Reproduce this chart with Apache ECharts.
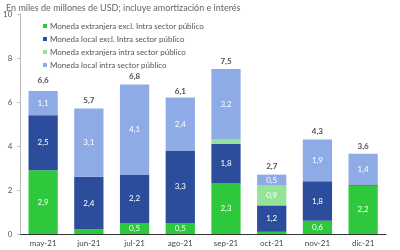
<!DOCTYPE html>
<html>
<head>
<meta charset="utf-8">
<script src="https://cdn.jsdelivr.net/npm/echarts@6/dist/echarts.min.js"></script>
<style>
html, body { margin: 0; padding: 0; background: #fff; }
#chart { width: 400px; height: 250px; }
</style>
</head>
<body>
<div id="chart"></div>
<script>
var months = ["may-21", "jun-21", "jul-21", "ago-21", "sep-21", "oct-21", "nov-21", "dic-21"];
var extranjeraExcl = [2.9, 0.2, 0.5, 0.5, 2.3, 0.1, 0.6, 2.2];
var localExcl = [2.5, 2.4, 2.2, 3.3, 1.8, 1.2, 1.8, 0.05];
var extranjeraIntra = [0, 0, 0, 0, 0.2, 0.9, 0, 0];
var localIntra = [1.1, 3.1, 4.1, 2.4, 3.2, 0.5, 1.9, 1.4];
var totals = [6.6, 5.7, 6.8, 6.1, 7.5, 2.7, 4.3, 3.6];
var yTicks = [0, 2, 4, 6, 8, 10];

var fmt = function (v) { return v.toFixed(1).replace(".", ","); };

var segLabel = {
  show: true,
  color: "#ffffff",
  fontSize: 8,
  fontFamily: "Lato",
  formatter: function (p) { return p.value >= 0.4 ? fmt(p.value) : ""; }
};

function seg(name, data, color) {
  return {
    name: name,
    type: "bar",
    stack: "total",
    barWidth: "64%",
    data: data,
    itemStyle: { color: color },
    label: segLabel
  };
}

var chart = echarts.init(document.getElementById("chart"));
var option = {
  animation: false,
  title: {
    text: "En miles de millones de USD; incluye amortización e interés",
    left: 1,
    top: -1,
    textStyle: { fontSize: 9, fontWeight: "normal", color: "#666", fontFamily: "Lato" }
  },
  legend: {
    orient: "vertical",
    left: 38,
    top: 17,
    itemWidth: 4,
    itemHeight: 4,
    itemGap: 5,
    icon: "rect",
    textStyle: { fontSize: 8, color: "#555", fontFamily: "Lato", padding: [0, 0, 0, -2] },
    data: [
      "Moneda extranjera excl. Intra sector público",
      "Moneda local excl. Intra sector público",
      "Moneda extranjera intra sector público",
      "Moneda local intra sector público"
    ]
  },
  grid: { left: 18, right: 14, top: 14, bottom: 16 },
  xAxis: {
    type: "category",
    data: months,
    axisLine: { lineStyle: { color: "#333", width: 1 } },
    axisTick: { show: false },
    axisLabel: { fontSize: 8, color: "#444", fontFamily: "Lato", margin: 5 }
  },
  yAxis: {
    type: "value",
    min: yTicks[0],
    max: yTicks[yTicks.length - 1],
    interval: 2,
    splitLine: { show: false },
    axisLine: { show: true, lineStyle: { color: "#bbb" } },
    axisTick: { show: true, length: 3, lineStyle: { color: "#bbb" } },
    axisLabel: { fontSize: 8, color: "#555", fontFamily: "Lato", margin: 8 }
  },
  series: [
    seg("Moneda extranjera excl. Intra sector público", extranjeraExcl, "#2ec83c"),
    seg("Moneda local excl. Intra sector público", localExcl, "#2b4d9b"),
    seg("Moneda extranjera intra sector público", extranjeraIntra, "#94e398"),
    seg("Moneda local intra sector público", localIntra, "#8eabe6"),
    {
      name: "total",
      type: "scatter",
      data: totals,
      symbolSize: 0,
      label: {
        show: true,
        position: "top",
        distance: 4,
        color: "#222",
        fontSize: 8,
        fontWeight: "bold",
        fontFamily: "Lato",
        formatter: function (p) { return fmt(p.value); }
      }
    }
  ]
};
chart.setOption(option);
</script>
</body>
</html>
